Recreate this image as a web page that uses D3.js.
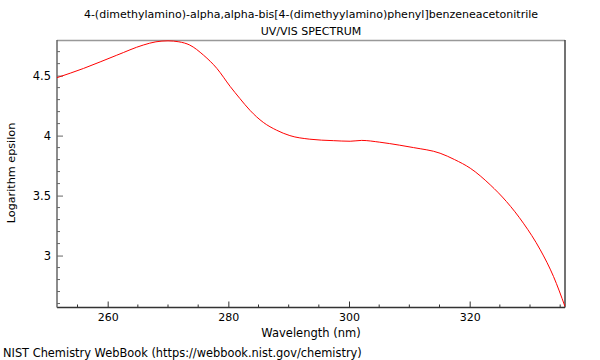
<!DOCTYPE html>
<html><head><meta charset="utf-8">
<script src="https://cdn.jsdelivr.net/npm/d3@7"></script>
<style>body{margin:0;background:#fff}svg{display:block}text{font-family:"DejaVu Sans",sans-serif;fill:#000}</style>
</head><body><svg id="c" width="600" height="360"></svg>
<script>
const titleLines = ["4-(dimethylamino)-alpha,alpha-bis[4-(dimethyylamino)phenyl]benzeneacetonitrile", "UV/VIS SPECTRUM"];
const xLabel = "Wavelength (nm)";
const yLabel = "Logarithm epsilon";
const footer = "NIST Chemistry WebBook (https://webbook.nist.gov/chemistry)";
const wavelength = [251.6, 256, 261.5, 265.9, 268, 270, 271.8, 273.6, 275.9, 278.1, 280.3, 281.9, 283.6, 285.8, 288, 290.2, 293.5, 297.4, 300.2, 302.1, 305.1, 308.4, 310.7, 315.1, 317.5, 320.1, 323.4, 326.1, 328.9, 331.7, 333.9, 335.8];
const logEps = [4.483, 4.56, 4.67, 4.755, 4.782, 4.79, 4.782, 4.755, 4.67, 4.56, 4.41, 4.31, 4.21, 4.11, 4.045, 4.0, 3.97, 3.958, 3.953, 3.96, 3.945, 3.92, 3.90, 3.853, 3.80, 3.728, 3.59, 3.45, 3.27, 3.048, 2.825, 2.575];
const xTicks = [260, 280, 300, 320];
const yTicks = [3, 3.5, 4, 4.5];

const svg = d3.select("#c");
const L = 57, R = 565, T = 40, B = 307.5;
const x = d3.scaleLinear().domain([251.6, 335.8]).range([L, R]);
const y = d3.scaleLinear().domain([2.567, 4.797]).range([B, T]);

// frame
svg.append("line").attr("x1", L).attr("x2", R).attr("y1", T + 0.5).attr("y2", T + 0.5).attr("stroke", "#999").attr("stroke-width", 1.5);
svg.append("line").attr("x1", R).attr("x2", R).attr("y1", T).attr("y2", B).attr("stroke", "#444").attr("stroke-width", 1.5);

// minor ticks
const xMinor = d3.range(255, 336, 5).filter(v => !xTicks.includes(v));
const yMinor = d3.range(26, 48, 1).map(v => v / 10).filter(v => !yTicks.includes(v) && v >= 2.57 && v <= 4.79);

const xAxis = d3.axisBottom(x).tickValues(xTicks).tickSize(-6).tickPadding(6).tickFormat(d3.format("d"));
const gx = svg.append("g").attr("transform", `translate(0,${B})`).call(xAxis);
gx.select(".domain").attr("stroke", "#333").attr("stroke-width", 1.5).attr("d", `M${L},0H${R}`);
gx.selectAll(".tick line").attr("stroke", "#333");
gx.selectAll(".tick text").attr("font-size", 11).attr("font-family", "DejaVu Sans");
gx.selectAll(".mt").data(xMinor).join("line").attr("class", "mt")
  .attr("x1", d => x(d)).attr("x2", d => x(d)).attr("y1", 0).attr("y2", -3).attr("stroke", "#333");

const yAxis = d3.axisLeft(y).tickValues(yTicks).tickSize(-6).tickPadding(6).tickFormat(d => d3.format("")(d));
const gy = svg.append("g").attr("transform", `translate(${L},0)`).call(yAxis);
gy.select(".domain").attr("stroke", "#666").attr("stroke-width", 1.5).attr("d", `M0,${T}V${B}`);
gy.selectAll(".tick line").attr("stroke", "#666");
gy.selectAll(".tick text").attr("font-size", 11.5).attr("font-family", "DejaVu Sans");
gy.selectAll(".mt").data(yMinor).join("line").attr("class", "mt")
  .attr("y1", d => y(d)).attr("y2", d => y(d)).attr("x1", 0).attr("x2", 3).attr("stroke", "#666");

// curve
const line = d3.line().x((d, i) => x(wavelength[i])).y(d => y(d)).curve(d3.curveMonotoneX);
svg.append("defs").append("clipPath").attr("id", "clip").append("rect").attr("x", L).attr("y", T - 1).attr("width", R - L).attr("height", B - T + 2);
svg.append("path").datum(logEps).attr("d", line).attr("fill", "none").attr("stroke", "#ff0000").attr("stroke-width", 1).attr("clip-path", "url(#clip)");

// texts
svg.append("text").attr("x", 311).attr("y", 18).attr("text-anchor", "middle").attr("font-size", 11).text(titleLines[0]);
svg.append("text").attr("x", 311).attr("y", 34.5).attr("text-anchor", "middle").attr("font-size", 11).text(titleLines[1]);
svg.append("text").attr("x", 311).attr("y", 337).attr("text-anchor", "middle").attr("font-size", 11.5).text(xLabel);
svg.append("text").attr("transform", "translate(15,173) rotate(-90)").attr("text-anchor", "middle").attr("font-size", 11.2).text(yLabel);
svg.append("text").attr("x", 3).attr("y", 357).attr("font-size", 11.4).text(footer);
</script></body></html>
